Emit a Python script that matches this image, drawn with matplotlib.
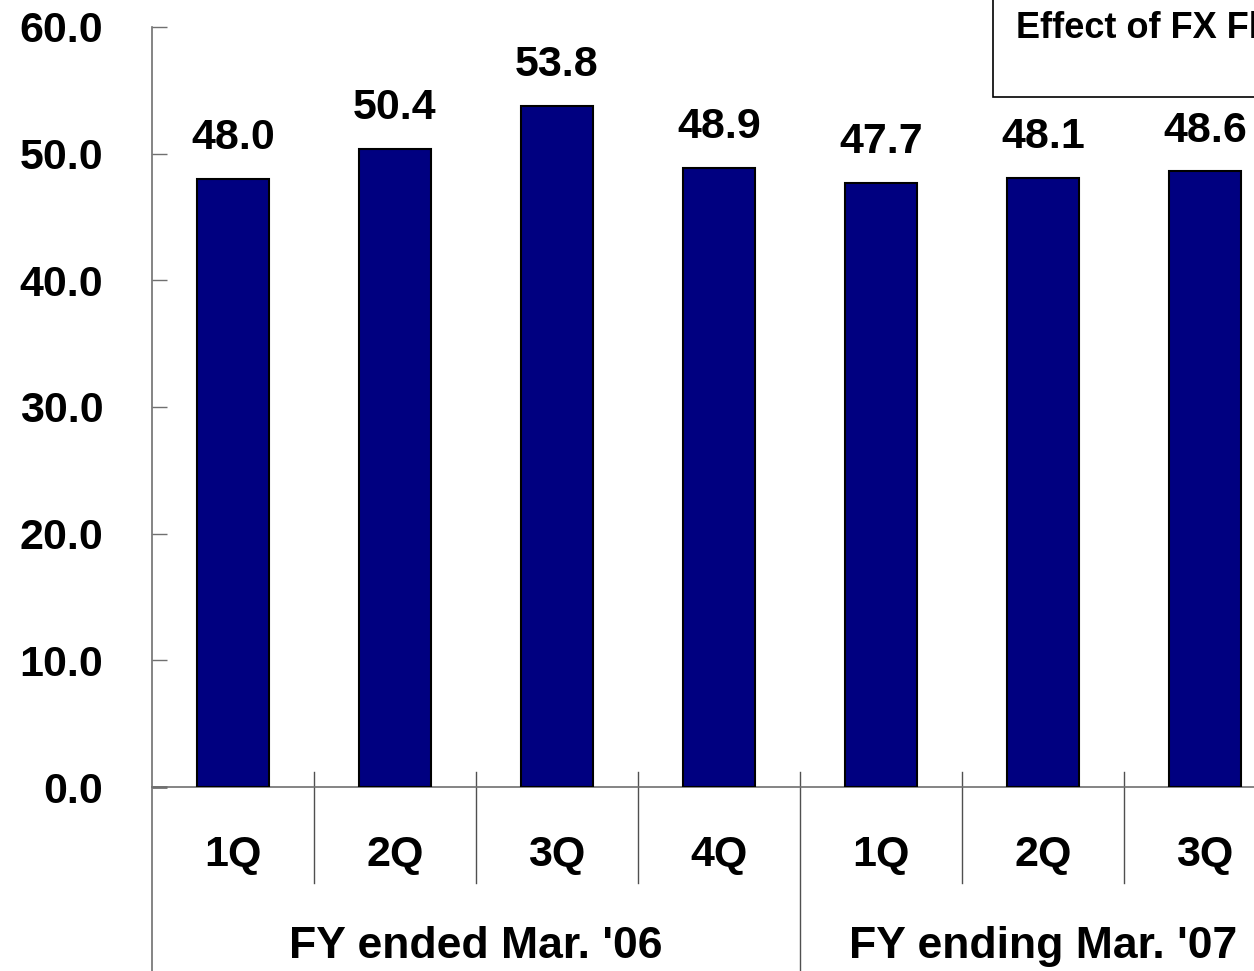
import matplotlib
matplotlib.use('Agg')
import matplotlib.pyplot as plt
from matplotlib.patches import Rectangle
from matplotlib.lines import Line2D
import matplotlib.transforms as mtransforms

plt.rcParams['font.family'] = ['Liberation Sans', 'DejaVu Sans']
plt.rcParams['font.weight'] = 'bold'

quarters = ['1Q', '2Q', '3Q', '4Q', '1Q', '2Q', '3Q']
values = [48.0, 50.4, 53.8, 48.9, 47.7, 48.1, 48.6]
fiscal_years = ["FY ended Mar. '06", "FY ending Mar. '07"]
fy_centers = [1.5, 5.0]
yticks = [0, 10, 20, 30, 40, 50, 60]

BAR_COLOR = '#000080'
AXIS_COLOR = '#707070'
W, H = 1254, 971

fig = plt.figure(figsize=(W / 100, H / 100), dpi=100)
# plot area runs off the right edge of the page
ax = fig.add_axes([152 / W, (H - 787) / H, 7 * 162 / W, 760 / H])

x = list(range(len(values)))
ax.bar(x, values, width=0.445, color=BAR_COLOR, edgecolor='black', linewidth=1.5, zorder=3)

for xi, v in zip(x, values):
    ax.annotate(f'{v:.1f}', (xi, v), xytext=(0, 15), textcoords='offset points',
                ha='center', va='bottom', fontsize=31, fontweight='bold')

ax.set_xlim(-0.5, 6.5)
ax.set_ylim(0, 60)
ax.set_yticks(yticks)
ax.set_yticklabels([f'{t:.1f}' for t in yticks], fontsize=31, fontweight='bold')
ax.tick_params(axis='y', direction='in', length=11, width=1, color=AXIS_COLOR, pad=35)
zero_tick = ax.yaxis.get_major_ticks()[0]
zero_tick.tick1line.set_color('black')
zero_tick.tick1line.set_markeredgewidth(2)
ax.set_xticks([])
for s in ['top', 'right', 'left']:
    ax.spines[s].set_visible(False)
ax.spines['bottom'].set_color(AXIS_COLOR)
ax.spines['bottom'].set_linewidth(1.2)

trans = mtransforms.blended_transform_factory(ax.transData, ax.transAxes)

# value axis line, carried down through the category area
ax.add_line(Line2D([-0.5, -0.5], [1, -0.25], transform=trans, color=AXIS_COLOR,
                   linewidth=1.2, clip_on=False))

# dividers between quarters, long one between fiscal years
for i in range(6):
    bottom = -0.25 if i == 3 else -0.126
    ax.add_line(Line2D([i + 0.5, i + 0.5], [0.0197, bottom], transform=trans,
                       color='#505050', linewidth=1, clip_on=False))

for xi, q in zip(x, quarters):
    ax.text(xi, -0.0895, q, transform=trans, ha='center', va='center',
            fontsize=31, fontweight='bold')

for cx, label in zip(fy_centers, fiscal_years):
    ax.text(cx, -0.2105, label, transform=trans, ha='center', va='center',
            fontsize=32, fontweight='bold')

# FX note box in the top right corner
fig.add_artist(Rectangle((993 / W, (H - 97) / H), 0.5, 0.5, transform=fig.transFigure,
                         facecolor='white', edgecolor='black', linewidth=1.2))
fig.text(1016 / W, 1 - 29 / H, 'Effect of FX Fluctuations', ha='left', va='center',
         fontsize=26, fontweight='bold')

fig.savefig('out.png', dpi=100)
